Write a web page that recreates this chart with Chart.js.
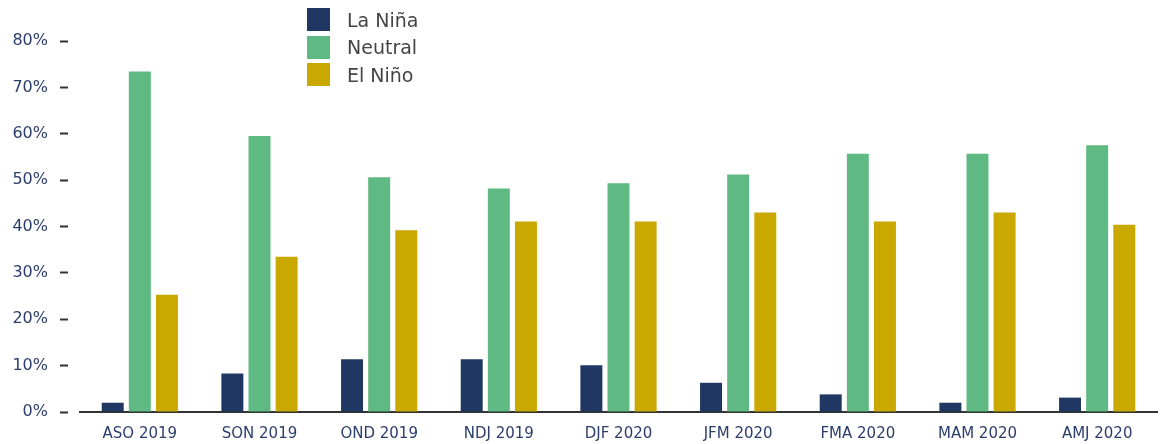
<!DOCTYPE html>
<html>
<head>
<meta charset="utf-8">
<script src="https://cdn.jsdelivr.net/npm/chart.js@4/dist/chart.umd.min.js"></script>
<style>
  body { margin: 0; background: #fff; }
  #wrap { position: relative; width: 1167px; height: 444px; }
  #legend { position: absolute; left: 307px; top: 6px; font-family: "DejaVu Sans", sans-serif; font-size: 19px; color: #444; }
  .item { display: flex; align-items: center; height: 27.5px; }
  .box { width: 23px; height: 23px; margin-right: 17px; }
</style>
</head>
<body>
<div id="wrap">
  <canvas id="chart" width="1167" height="444"></canvas>
  <div id="legend"></div>
</div>
<script>
const categories = ["ASO 2019", "SON 2019", "OND 2019", "NDJ 2019", "DJF 2020", "JFM 2020", "FMA 2020", "MAM 2020", "AMJ 2020"];
const laNina = [2, 8.3, 11.4, 11.4, 10.1, 6.3, 3.8, 2, 3.1];
const neutral = [73.4, 59.5, 50.6, 48.2, 49.3, 51.2, 55.7, 55.7, 57.5];
const elNino = [25.3, 33.5, 39.2, 41.1, 41.1, 43, 41.1, 43, 40.4];
const seriesNames = ["La Niña", "Neutral", "El Niño"];
const seriesColors = ["#1f3762", "#5fb983", "#c9a900"];

const axisText = "#2b3d6b";

const chart = new Chart(document.getElementById("chart").getContext("2d"), {
  type: "bar",
  data: {
    labels: categories,
    datasets: [laNina, neutral, elNino].map((d, i) => ({
      label: seriesNames[i],
      data: d,
      backgroundColor: seriesColors[i],
      categoryPercentage: 0.68,
      barPercentage: 0.81,
    })),
  },
  options: {
    responsive: false,
    animation: false,
    layout: { padding: { top: 41, right: 10, left: 0, bottom: 0 } },
    plugins: { legend: { display: false }, tooltip: { enabled: false } },
    scales: {
      x: {
        grid: { display: false },
        border: { display: true, color: "#333", width: 2 },
        ticks: { color: axisText, font: { family: "DejaVu Sans", size: 15 }, padding: 5 },
        afterFit: (s) => { s.height = 32; },
      },
      y: {
        min: 0,
        max: 80,
        border: { display: false },
        grid: {
          drawOnChartArea: false,
          tickLength: 20,
          tickColor: "#333",
          tickWidth: 2,
          tickBorderDash: [8, 12],
        },
        ticks: {
          stepSize: 10,
          padding: 12,
          color: axisText,
          font: { family: "DejaVu Sans", size: 16 },
          callback: (v) => v + "%",
        },
        afterFit: (s) => { s.width = 80; },
      },
    },
  },
});

const legend = document.getElementById("legend");
chart.data.datasets.forEach((ds) => {
  const row = document.createElement("div");
  row.className = "item";
  row.innerHTML = '<span class="box" style="background:' + ds.backgroundColor + '"></span>' + ds.label;
  legend.appendChild(row);
});
</script>
</body>
</html>
